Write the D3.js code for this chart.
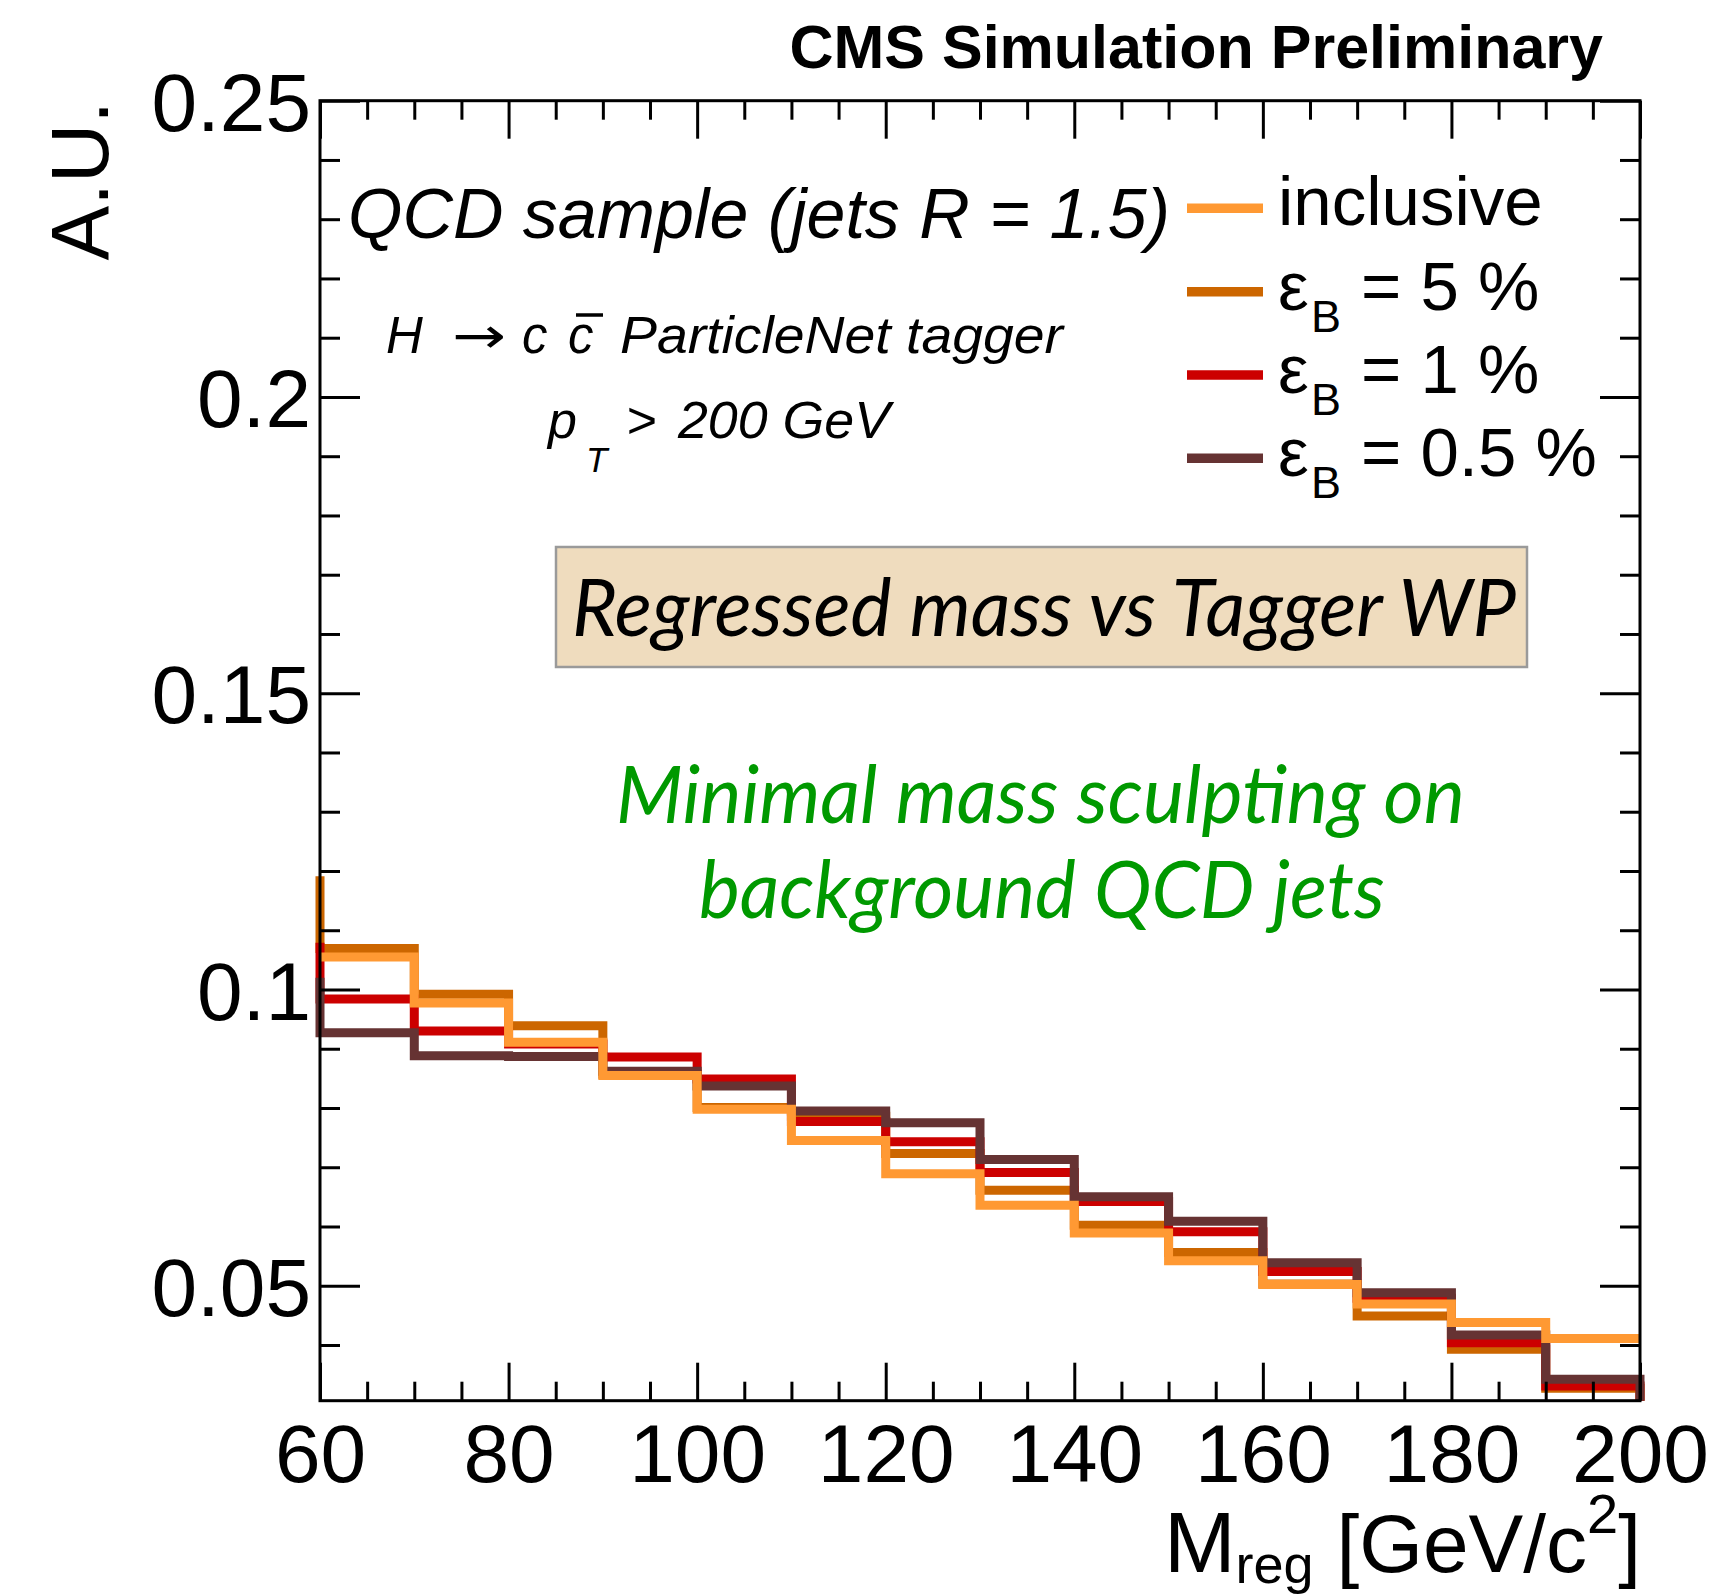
<!DOCTYPE html>
<html>
<head>
<meta charset="utf-8">
<script src="https://cdn.jsdelivr.net/npm/d3@7"></script>
<style>
  html, body { margin: 0; padding: 0; background: #ffffff; }
  svg { display: block; }
  .lab { font-family: "Liberation Sans", Arial, Helvetica, sans-serif; fill: #000; }
  .gill { font-family: Lato, "Open Sans", sans-serif; font-style: italic; }
</style>
</head>
<body>
<svg id="chart" width="1727" height="1596"></svg>
<script>
// ---------------- data ----------------
const massBinEdges = [60, 70, 80, 90, 100, 110, 120, 130, 140, 150, 160, 170, 180, 190, 200];
const seriesNames  = ["inclusive", "ε_B = 5 %", "ε_B = 1 %", "ε_B = 0.5 %"];
const inclusive    = [0.1055, 0.0977, 0.0911, 0.0855, 0.0798, 0.0745, 0.0689, 0.0636, 0.0589, 0.0542, 0.0502, 0.0469, 0.0438, 0.0411];
const effB5        = [0.1069, 0.0992, 0.0939, 0.0857, 0.0801, 0.0786, 0.0723, 0.0661, 0.0602, 0.0556, 0.0503, 0.0449, 0.0393, 0.0327];
const effB1        = [0.0984, 0.0930, 0.0908, 0.0886, 0.0849, 0.0777, 0.0743, 0.0691, 0.0642, 0.0591, 0.0524, 0.0479, 0.0404, 0.0331];
const effB05       = [0.0927, 0.0888, 0.0887, 0.0862, 0.0837, 0.0795, 0.0775, 0.0713, 0.0650, 0.0609, 0.0539, 0.0488, 0.0417, 0.0342];
// content of the bin just below 60 (only the edge step is visible)
const underflow    = [null, 0.1191, 0.1079, 0.1020];
const yMajorTicks  = [0.05, 0.1, 0.15, 0.2, 0.25];
const yTickLabels  = ["0.05", "0.1", "0.15", "0.2", "0.25"];
const yMinorTicks  = [0.04, 0.06, 0.07, 0.08, 0.09, 0.11, 0.12, 0.13, 0.14, 0.16, 0.17, 0.18, 0.19, 0.21, 0.22, 0.23, 0.24];
const xMajorTicks  = [60, 80, 100, 120, 140, 160, 180, 200];
const xMinorTicks  = [65, 70, 75, 85, 90, 95, 105, 110, 115, 125, 130, 135, 145, 150, 155, 165, 170, 175, 185, 190, 195];
const yDomain      = [0.0306, 0.25];
const xDomain      = [60, 200];

// ---------------- styles ----------------
const colors = ["#ff9933", "#cc6600", "#cc0000", "#663333"];
const allSeries = [inclusive, effB5, effB1, effB05];
const drawOrder = [1, 2, 3, 0];

const svg = d3.select("#chart");
const L = 320, R = 1640, T = 100.7, B = 1400.7;
const x = d3.scaleLinear().domain(xDomain).range([L, R]);
const y = d3.scaleLinear().domain(yDomain).range([B, T]);

// ---------------- histograms ----------------
function stepPath(vals, under, drops) {
  const p = d3.path();
  if (drops && under != null) {
    p.moveTo(x(massBinEdges[0]), y(Math.min(under, yDomain[1])));
    p.lineTo(x(massBinEdges[0]), y(vals[0]));
  } else {
    p.moveTo(x(massBinEdges[0]), y(vals[0]));
  }
  vals.forEach((v, i) => {
    if (i > 0) p.lineTo(x(massBinEdges[i]), y(v));
    p.lineTo(x(massBinEdges[i + 1]), y(v));
  });
  if (drops) p.lineTo(x(massBinEdges[massBinEdges.length - 1]), y(yDomain[0]));
  return p.toString();
}
const hg = svg.append("g");
drawOrder.forEach(k => {
  hg.append("path")
    .attr("d", stepPath(allSeries[k], underflow[k], k !== 0))
    .attr("fill", "none")
    .attr("stroke", colors[k])
    .attr("stroke-width", 9)
    .attr("stroke-linejoin", "miter")
    .attr("stroke-linecap", "butt");
});

// ---------------- axes ----------------
function styleAxis(g) {
  g.select(".domain").remove();
  g.selectAll(".tick line").attr("stroke", "#000").attr("stroke-width", 3);
}
const fontFam = '"Liberation Sans", Arial, Helvetica, sans-serif';
// left
svg.append("g").attr("transform", `translate(${L},0)`)
  .call(d3.axisLeft(y).tickValues(yMajorTicks).tickSize(-40).tickPadding(9)
        .tickFormat((d, i) => yTickLabels[i]))
  .call(styleAxis)
  .call(g => g.selectAll("text").attr("font-size", 82).attr("font-family", fontFam)
        .attr("fill", "#000").attr("dy", "0.36em"));
svg.append("g").attr("transform", `translate(${L},0)`)
  .call(d3.axisLeft(y).tickValues(yMinorTicks).tickSize(-20).tickFormat(""))
  .call(styleAxis);
// right
svg.append("g").attr("transform", `translate(${R},0)`)
  .call(d3.axisRight(y).tickValues(yMajorTicks).tickSize(-40).tickFormat(""))
  .call(styleAxis);
svg.append("g").attr("transform", `translate(${R},0)`)
  .call(d3.axisRight(y).tickValues(yMinorTicks).tickSize(-20).tickFormat(""))
  .call(styleAxis);
// bottom
svg.append("g").attr("transform", `translate(0,${B})`)
  .call(d3.axisBottom(x).tickValues(xMajorTicks).tickSize(-38).tickPadding(23).tickFormat(d3.format("d")))
  .call(styleAxis)
  .call(g => g.selectAll("text").attr("font-size", 82).attr("font-family", fontFam).attr("fill", "#000"));
svg.append("g").attr("transform", `translate(0,${B})`)
  .call(d3.axisBottom(x).tickValues(xMinorTicks).tickSize(-19).tickFormat(""))
  .call(styleAxis);
// top
svg.append("g").attr("transform", `translate(0,${T})`)
  .call(d3.axisTop(x).tickValues(xMajorTicks).tickSize(-38).tickFormat(""))
  .call(styleAxis);
svg.append("g").attr("transform", `translate(0,${T})`)
  .call(d3.axisTop(x).tickValues(xMinorTicks).tickSize(-19).tickFormat(""))
  .call(styleAxis);
// frame
svg.append("rect").attr("x", L).attr("y", T).attr("width", R - L).attr("height", B - T)
  .attr("fill", "none").attr("stroke", "#000").attr("stroke-width", 3);

// ---------------- axis titles ----------------
svg.append("text").attr("class", "lab")
  .attr("transform", "translate(108,101) rotate(-90)")
  .attr("text-anchor", "end").attr("font-size", 82).text("A.U.");

const xt = svg.append("text").attr("class", "lab").attr("x", 1641).attr("y", 1572)
  .attr("text-anchor", "end").attr("font-size", 82);
xt.append("tspan").attr("font-size", 86).text("M");
xt.append("tspan").attr("font-size", 54).attr("dy", 11).text("reg");
xt.append("tspan").attr("dy", -11).text(" [GeV/c");
xt.append("tspan").attr("font-size", 56).attr("dy", -39).text("2");
xt.append("tspan").attr("dy", 39).text("]");

// ---------------- header ----------------
svg.append("text").attr("class", "lab").attr("x", 1603).attr("y", 68)
  .attr("text-anchor", "end").attr("font-size", 61).attr("font-weight", "bold")
  .text("CMS Simulation Preliminary");

// ---------------- annotations ----------------
svg.append("text").attr("class", "lab").attr("x", 348).attr("y", 238)
  .attr("font-size", 70).attr("font-style", "italic")
  .attr("textLength", 822).attr("lengthAdjust", "spacingAndGlyphs")
  .text("QCD sample (jets R = 1.5)");

svg.append("text").attr("class", "lab").attr("x", 386).attr("y", 353)
  .attr("font-size", 51).attr("font-style", "italic").text("H");
svg.append("text").attr("x", 452).attr("y", 353)
  .attr("font-family", '"DejaVu Sans", sans-serif').attr("fill", "#000")
  .attr("font-size", 50).attr("textLength", 54).attr("lengthAdjust", "spacingAndGlyphs").text("→");
svg.append("text").attr("class", "lab").attr("x", 522).attr("y", 353)
  .attr("font-size", 51).attr("font-style", "italic").text("c");
svg.append("text").attr("class", "lab").attr("x", 568).attr("y", 353)
  .attr("font-size", 51).attr("font-style", "italic").text("c");
svg.append("line").attr("x1", 576).attr("x2", 603).attr("y1", 315).attr("y2", 315)
  .attr("stroke", "#000").attr("stroke-width", 3.5);
svg.append("text").attr("class", "lab").attr("x", 620).attr("y", 353)
  .attr("font-size", 52).attr("font-style", "italic")
  .attr("textLength", 443).attr("lengthAdjust", "spacingAndGlyphs").text("ParticleNet tagger");

svg.append("text").attr("class", "lab").attr("x", 548).attr("y", 438)
  .attr("font-size", 52).attr("font-style", "italic").text("p");
svg.append("text").attr("class", "lab").attr("x", 586).attr("y", 472)
  .attr("font-size", 35).attr("font-style", "italic").text("T");
svg.append("text").attr("class", "lab").attr("x", 626).attr("y", 438)
  .attr("font-size", 52).attr("font-style", "italic").text(">");
svg.append("text").attr("class", "lab").attr("x", 678).attr("y", 438)
  .attr("font-size", 52).attr("font-style", "italic")
  .attr("textLength", 212).attr("lengthAdjust", "spacingAndGlyphs").text("200 GeV");

// box
svg.append("rect").attr("x", 556).attr("y", 547).attr("width", 971).attr("height", 120)
  .attr("fill", "#efdcbe").attr("stroke", "#9a9a9a").attr("stroke-width", 2.5);
svg.append("text").attr("class", "lab gill").attr("x", 572).attr("y", 636)
  .attr("font-size", 80).attr("textLength", 944).attr("lengthAdjust", "spacingAndGlyphs")
  .text("Regressed mass vs Tagger WP");

svg.append("text").attr("class", "gill").attr("x", 616).attr("y", 823).attr("fill", "#009900")
  .attr("font-size", 80).attr("textLength", 849).attr("lengthAdjust", "spacingAndGlyphs")
  .text("Minimal mass sculpting on");
svg.append("text").attr("class", "gill").attr("x", 699).attr("y", 918).attr("fill", "#009900")
  .attr("font-size", 80).attr("textLength", 686).attr("lengthAdjust", "spacingAndGlyphs")
  .text("background QCD jets");

// ---------------- legend ----------------
const legendY = [208.3, 291.7, 375, 458.3];
const legendRest = [null, "= 5 %", "= 1 %", "= 0.5 %"];
legendY.forEach((ly, k) => {
  svg.append("line").attr("x1", 1187).attr("x2", 1263).attr("y1", ly).attr("y2", ly)
    .attr("stroke", colors[k]).attr("stroke-width", 9.5);
  if (k === 0) {
    svg.append("text").attr("class", "lab").attr("x", 1278).attr("y", ly + 17)
      .attr("font-size", 69).text(seriesNames[0]);
  } else {
    const t = svg.append("text").attr("class", "lab").attr("x", 1278).attr("y", ly + 18)
      .attr("font-size", 69);
    t.append("tspan").text("ε");
    t.append("tspan").attr("font-size", 45).attr("dy", 22).attr("x", 1311).text("B");
    t.append("tspan").attr("dy", -22).attr("x", 1361).text(legendRest[k]);
  }
});
</script>
</body>
</html>
